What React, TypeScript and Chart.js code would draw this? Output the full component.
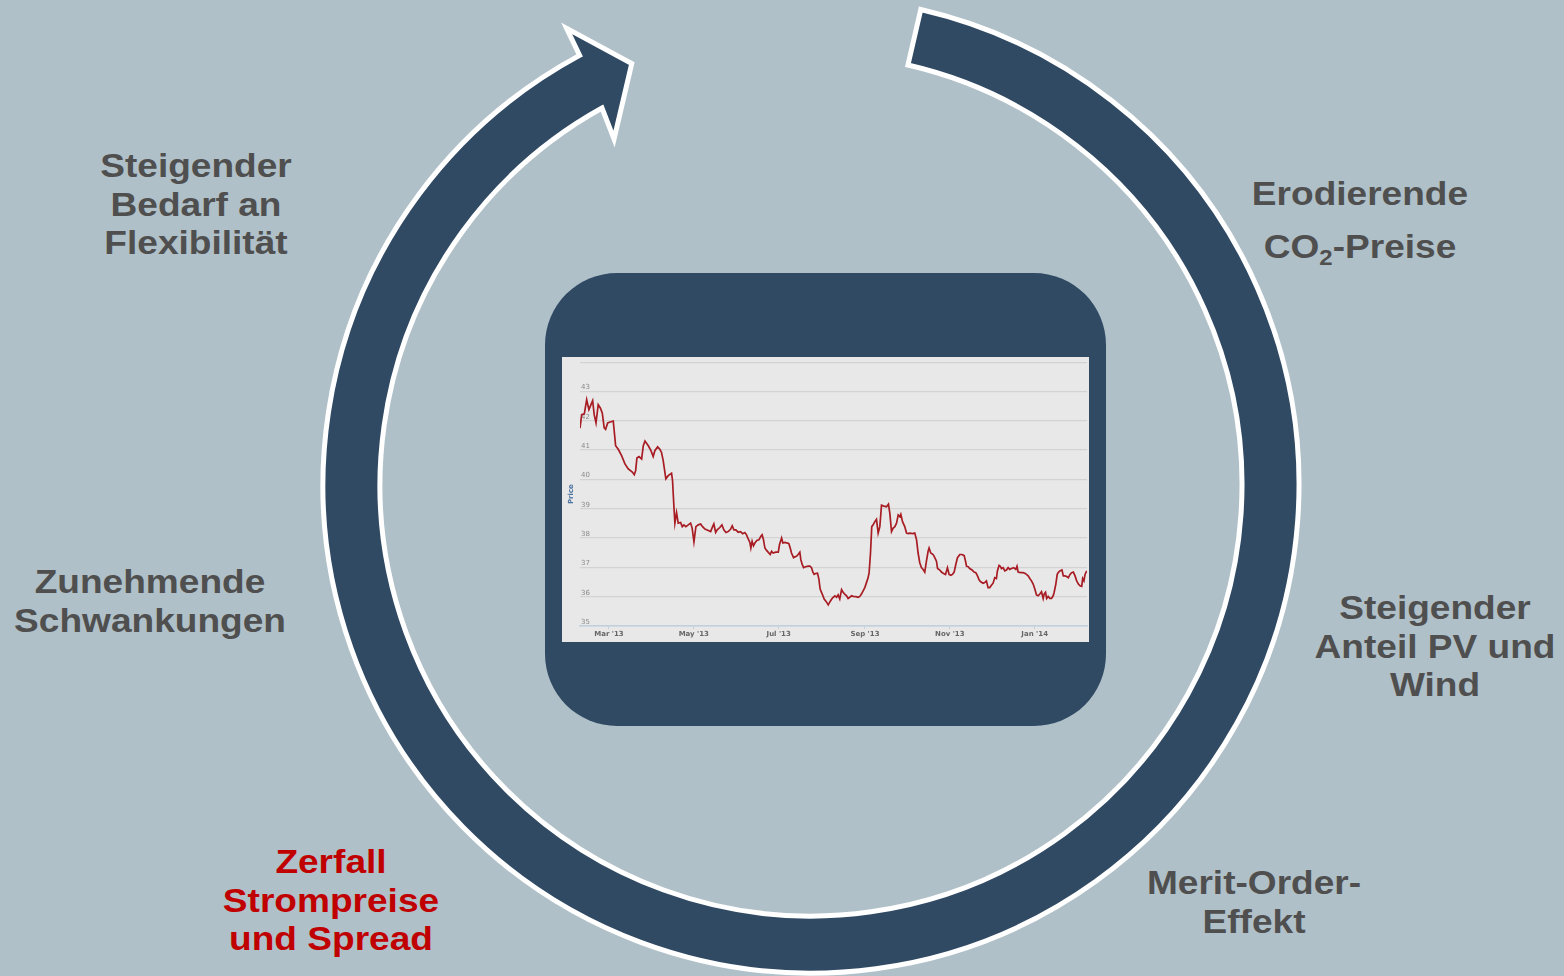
import React, { useEffect, useRef } from "react";
import { Chart, registerables } from "chart.js";

Chart.register(...registerables);

// Day offset from 1 Jan 2013 for each sample, and the price at that sample
const tradeDays = [
  38.2, 39.4, 41.3, 43.0, 44.6, 46.1, 47.3, 48.4, 49.7, 51.3, 52.8, 54.2, 55.6, 56.6, 58.1, 60.4, 62.1, 62.8, 63.8, 65.7,
  68.1, 70.5, 72.9, 75.8, 77.2, 78.2, 79.1, 80.6, 82.5, 83.7, 84.9, 87.3, 89.2, 90.8, 92.0, 94.0, 95.6, 96.8, 98.0, 99.9,
  101.6, 104.0, 104.7, 105.7, 106.4, 107.6, 108.8, 110.5, 111.7, 112.9, 114.3, 116.0, 117.7, 118.8, 120.1, 121.5, 123.2, 124.9, 126.3, 128.0,
  130.4, 132.1, 133.5, 134.4, 135.7, 136.8, 138.7, 140.2, 141.6, 143.1, 144.7, 146.4, 147.6, 148.8, 150.2, 151.9, 153.6, 155.1, 156.7, 157.9,
  159.1, 160.3, 161.0, 161.9, 162.9, 163.9, 165.3, 166.8, 168.2, 169.1, 170.1, 171.1, 172.3, 173.4, 174.9, 175.9, 177.0, 178.8, 180.7, 181.6,
  183.1, 184.0, 185.4, 187.4, 188.3, 189.3, 190.2, 191.7, 192.6, 193.8, 195.0, 196.2, 196.9, 197.9, 198.9, 200.3, 202.2, 203.4, 204.6, 205.6,
  206.5, 207.5, 208.9, 209.9, 210.8, 212.3, 213.7, 215.2, 216.6, 217.9, 219.1, 220.2, 221.4, 222.6, 223.7, 224.9, 226.2, 227.3, 228.5, 229.8,
  230.9, 232.1, 233.4, 234.5, 236.5, 238.1, 239.3, 240.5, 241.7, 242.9, 244.1, 245.3, 246.0, 247.0, 247.9, 248.9, 250.1, 251.3, 252.5, 253.7,
  254.9, 256.6, 258.5, 259.9, 260.9, 262.1, 263.3, 264.5, 265.7, 266.9, 268.1, 268.8, 270.0, 271.6, 272.9, 274.0, 275.2, 277.2, 278.8, 280.1,
  281.2, 282.4, 283.6, 284.8, 286.0, 287.2, 288.4, 289.1, 290.3, 292.0, 293.2, 294.4, 295.2, 296.8, 298.0, 299.2, 300.9, 302.3, 303.5, 304.7,
  305.9, 307.1, 308.3, 309.5, 311.2, 312.8, 314.3, 315.3, 316.0, 317.2, 318.3, 320.0, 321.4, 322.7, 323.9, 325.1, 326.2, 327.9, 329.1, 330.3,
  331.5, 332.7, 333.9, 335.1, 336.3, 337.5, 338.2, 339.4, 340.3, 341.1, 342.3, 343.5, 344.7, 345.9, 347.1, 348.3, 349.9, 351.4, 352.3, 353.1,
  354.8, 356.7, 357.9, 359.1, 360.3, 361.5, 362.7, 363.9, 365.1, 366.3, 367.5, 368.7, 369.9, 371.1, 371.8, 372.8, 373.6, 374.7, 375.9, 377.1,
  378.3, 379.0, 380.2, 381.2, 382.2, 383.1, 384.6, 385.6, 386.8, 388.0, 389.2, 390.4, 391.6, 392.8, 394.0, 395.2, 396.4, 397.6, 398.8, 399.5,
  400.4, 401.2, 402.4,
];

const prices = [
  41.75, 42.21, 42.24, 42.72, 42.38, 42.55, 42.69, 42.21, 41.93, 42.55, 42.44, 42.27, 41.76, 41.71, 41.93, 41.97, 41.99, 41.65, 41.15, 41.03,
  40.81, 40.53, 40.36, 40.25, 40.16, 40.30, 40.73, 40.78, 40.70, 41.15, 41.31, 41.15, 40.98, 40.78, 40.98, 41.11, 41.03, 40.92, 40.64, 40.02,
  40.13, 40.21, 39.97, 39.07, 38.51, 38.87, 38.51, 38.53, 38.39, 38.45, 38.39, 38.45, 38.51, 38.34, 37.87, 38.39, 38.45, 38.48, 38.39, 38.31,
  38.26, 38.22, 38.39, 38.48, 38.19, 38.28, 38.36, 38.45, 38.28, 38.19, 38.22, 38.30, 38.42, 38.28, 38.28, 38.20, 38.22, 38.15, 38.19, 38.11,
  37.97, 37.85, 37.66, 37.89, 37.74, 37.83, 37.92, 37.94, 38.06, 38.11, 37.94, 37.66, 37.58, 37.52, 37.44, 37.55, 37.49, 37.52, 37.52, 37.78,
  38.00, 37.83, 37.85, 37.83, 37.81, 37.66, 37.49, 37.33, 37.36, 37.38, 37.44, 37.52, 37.27, 37.10, 36.99, 37.02, 37.04, 37.04, 36.99, 36.84,
  36.76, 36.79, 36.80, 36.60, 36.26, 36.09, 35.92, 35.83, 35.72, 35.83, 35.92, 35.98, 36.03, 35.98, 36.06, 35.92, 36.24, 36.15, 36.09, 36.03,
  35.94, 35.98, 36.03, 36.01, 36.00, 35.98, 36.01, 36.09, 36.20, 36.31, 36.48, 36.65, 36.82, 37.49, 38.39, 38.45, 38.56, 38.64, 38.17, 38.39,
  39.12, 39.09, 39.07, 39.16, 38.84, 38.22, 38.34, 38.39, 38.51, 38.79, 38.73, 38.81, 38.56, 38.39, 38.17, 38.15, 38.17, 38.15, 38.17, 37.94,
  37.49, 37.16, 36.99, 36.93, 36.84, 37.21, 37.55, 37.66, 37.49, 37.44, 37.33, 37.21, 36.96, 36.91, 36.84, 36.80, 36.76, 36.99, 36.76, 36.73,
  36.76, 36.84, 37.10, 37.33, 37.44, 37.44, 37.40, 37.21, 37.04, 37.02, 36.96, 36.91, 36.84, 36.82, 36.71, 36.57, 36.51, 36.46, 36.48, 36.54,
  36.31, 36.31, 36.39, 36.46, 36.65, 36.62, 36.88, 37.07, 37.04, 36.96, 36.99, 36.88, 36.91, 36.99, 36.93, 36.96, 36.99, 36.93, 37.04, 36.84,
  36.82, 36.82, 36.80, 36.76, 36.71, 36.62, 36.54, 36.43, 36.26, 36.06, 36.03, 36.09, 36.17, 35.94, 36.09, 36.15, 35.94, 36.01, 35.94, 35.94,
  36.03, 36.15, 36.43, 36.76, 36.84, 36.88, 36.91, 36.71, 36.71, 36.69, 36.65, 36.76, 36.82, 36.84, 36.71, 36.54, 36.43, 36.37, 36.35, 36.62,
  36.54, 36.76, 36.88,
];

// Month starts (day offset from 1 Jan 2013) and their labels
const monthTickDays = [59, 120, 181, 243, 304, 365];
const monthTickLabels = ["Mar '13", "May '13", "Jul '13", "Sep '13", "Nov '13", "Jan '14"];
const yLabelledTicks = [35, 36, 37, 38, 39, 40, 41, 42, 43];

const NAVY = "#304a64";
const BG = "#b0c0c8";
const TEXT = "#4f4f4f";
const RED = "#c00000";

// Circular arrow geometry (decorative)
const CX = 811;
const CY = 485;
const R_OUT = 488;
const R_IN = 431;

function polar(r: number, deg: number): string {
  const a = (deg * Math.PI) / 180;
  return `${(CX + r * Math.cos(a)).toFixed(2)} ${(CY + r * Math.sin(a)).toFixed(2)}`;
}

function arrowPath(): string {
  return [
    `M ${polar(R_OUT, -77)}`,
    `A ${R_OUT} ${R_OUT} 0 1 1 ${polar(R_OUT, 241.7)}`,
    `L ${polar(518, 241.85)}`,
    `L ${polar(458, 246.96)}`,
    `L ${polar(398, 240.34)}`,
    `L ${polar(R_IN, 241.0)}`,
    `A ${R_IN} ${R_IN} 0 1 0 ${polar(R_IN, -77)}`,
    "Z",
  ].join(" ");
}

const labelBase: React.CSSProperties = {
  position: "absolute",
  width: 400,
  textAlign: "center",
  fontFamily: "'Liberation Sans', Arial, Helvetica, sans-serif",
  fontWeight: 700,
  fontSize: 34,
  lineHeight: "38.5px",
  color: TEXT,
  transform: "scaleX(1.09)",
  whiteSpace: "nowrap",
};

function Label(props: { cx: number; top: number; lines: React.ReactNode[]; color?: string }) {
  return (
    <div style={{ ...labelBase, left: props.cx - 200, top: props.top, color: props.color || TEXT }}>
      {props.lines.map((l, i) => (
        <div key={i}>{l}</div>
      ))}
    </div>
  );
}

export default function App() {
  const canvasRef = useRef<HTMLCanvasElement | null>(null);

  useEffect(() => {
    document.body.style.margin = "0";
    const canvas = canvasRef.current;
    if (!canvas) return;
    const chart = new Chart(canvas, {
      type: "line",
      data: {
        datasets: [
          {
            data: tradeDays.map((d, i) => ({ x: d, y: prices[i] })),
            borderColor: "#a81c24",
            borderWidth: 1.7,
            pointRadius: 0,
            tension: 0,
            fill: false,
          },
        ],
      },
      options: {
        animation: false,
        responsive: false,
        maintainAspectRatio: false,
        layout: { padding: { top: 2, right: 2, left: 0, bottom: 0 } },
        plugins: { legend: { display: false }, tooltip: { enabled: false } },
        scales: {
          x: {
            type: "linear",
            min: 38.2,
            max: 402.6,
            afterBuildTicks: (s: any) => {
              s.ticks = monthTickDays.map((v) => ({ value: v }));
            },
            afterFit: (s: any) => {
              s.height = 16;
            },
            ticks: {
              autoSkip: false,
              maxRotation: 0,
              padding: 1,
              color: "#666666",
              font: { size: 7, weight: "bold", family: "'DejaVu Sans', sans-serif" },
              callback: (v: any) => {
                const i = monthTickDays.indexOf(Number(v));
                return i >= 0 ? monthTickLabels[i] : "";
              },
            },
            grid: { drawOnChartArea: false, color: "#c2d0de", tickLength: 3 },
            border: { color: "#c2d0de", width: 1.5 },
          },
          y: {
            min: 35,
            max: 44,
            afterFit: (s: any) => {
              s.width = 18;
            },
            ticks: {
              stepSize: 1,
              mirror: true,
              padding: 1,
              labelOffset: -4,
              color: "#8a8a8a",
              font: { size: 7, family: "'DejaVu Sans', sans-serif" },
              callback: (v: any) => (yLabelledTicks.indexOf(Number(v)) >= 0 ? String(v) : ""),
            },
            grid: { color: "#d2d2d2", lineWidth: 1.3, drawTicks: false },
            border: { display: false },
            title: {
              display: true,
              text: "Price",
              color: "#4a72a0",
              font: { size: 7, weight: "bold", family: "'DejaVu Sans', sans-serif" },
              padding: { top: 5, bottom: 0 },
            },
          },
        },
      },
    });
    return () => chart.destroy();
  }, []);

  return (
    <div
      style={{
        position: "fixed",
        left: 0,
        top: 0,
        width: 1564,
        height: 976,
        overflow: "hidden",
        background: BG,
      }}
    >
      <svg width={1564} height={976} style={{ position: "absolute", left: 0, top: 0 }}>
        <path d={arrowPath()} fill={NAVY} stroke="#ffffff" strokeWidth={5} strokeLinejoin="miter" />
        <rect x={545} y={273} width={561} height={453} rx={72} ry={72} fill={NAVY} />
      </svg>

      <canvas
        ref={canvasRef}
        width={527}
        height={285}
        style={{ position: "absolute", left: 562, top: 357, width: 527, height: 285, background: "#e8e8e8" }}
      />

      <Label cx={196} top={146} lines={["Steigender", "Bedarf an", "Flexibilität"]} />
      <Label cx={150} top={562} lines={["Zunehmende", "Schwankungen"]} />
      <Label cx={331} top={842} lines={["Zerfall", "Strompreise", "und Spread"]} color={RED} />
      <Label cx={1360} top={174} lines={["Erodierende"]} />
      <Label
        cx={1360}
        top={227}
        lines={[
          <span key="co2">
            CO<span style={{ fontSize: 22, verticalAlign: "-7px", lineHeight: "10px" }}>2</span>-Preise
          </span>,
        ]}
      />
      <Label cx={1435} top={588} lines={["Steigender", "Anteil PV und", "Wind"]} />
      <Label cx={1254} top={863} lines={["Merit-Order-", "Effekt"]} />
    </div>
  );
}
